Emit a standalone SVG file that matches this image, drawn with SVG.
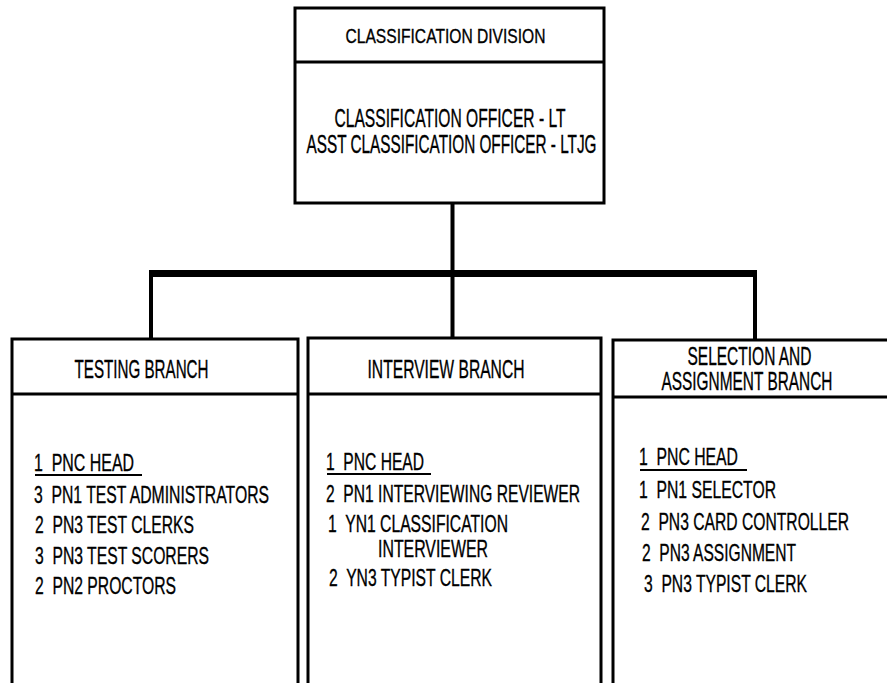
<svg xmlns="http://www.w3.org/2000/svg" width="887" height="683" viewBox="0 0 887 683">
<style>
text{font-family:"Liberation Sans",Arial,sans-serif;fill:#000;stroke:#000;stroke-width:0.35;white-space:pre}
.t{font-size:21px}
.o{font-size:25px}
.h{font-size:25px}
.i{font-size:24px}
.box{fill:none;stroke:#000;stroke-width:3}
.ul{stroke:#000;stroke-width:2}
.conn line{stroke:#000;stroke-width:4}
</style>
<rect width="887" height="683" fill="#fff"/>
<g id="connectors" class="conn">
<line x1="452.5" y1="203" x2="452.5" y2="338"/>
<rect x="149" y="270" width="608" height="7" fill="#000"/>
<line x1="151" y1="273" x2="151" y2="339"/>
<line x1="755" y1="273" x2="755" y2="340"/>
</g>
<g id="division">
<rect class="box" x="295" y="8" width="309" height="195"/>
<line class="box" x1="295" y1="62" x2="604" y2="62"/>
<text class="t" x="445.5" y="43" text-anchor="middle" textLength="200" lengthAdjust="spacingAndGlyphs">CLASSIFICATION DIVISION</text>
<text class="o" x="450" y="127" text-anchor="middle" textLength="231" lengthAdjust="spacingAndGlyphs">CLASSIFICATION OFFICER - LT</text>
<text class="o" x="451.5" y="153" text-anchor="middle" textLength="290" lengthAdjust="spacingAndGlyphs">ASST CLASSIFICATION OFFICER - LTJG</text>
</g>
<g id="testing">
<path class="box" d="M12,690 V339 H298 V690"/>
<line class="box" x1="12" y1="394" x2="298" y2="394"/>
<text class="h" x="141.5" y="378" text-anchor="middle" textLength="134" lengthAdjust="spacingAndGlyphs">TESTING BRANCH</text>
<text class="i" x="34" y="471" textLength="100" lengthAdjust="spacingAndGlyphs">1  PNC HEAD</text>
<line class="ul" x1="35" y1="475" x2="142" y2="475"/>
<text class="i" x="34" y="503" textLength="235" lengthAdjust="spacingAndGlyphs">3  PN1 TEST ADMINISTRATORS</text>
<text class="i" x="35" y="533" textLength="159" lengthAdjust="spacingAndGlyphs">2  PN3 TEST CLERKS</text>
<text class="i" x="35" y="564" textLength="174" lengthAdjust="spacingAndGlyphs">3  PN3 TEST SCORERS</text>
<text class="i" x="35" y="594" textLength="141" lengthAdjust="spacingAndGlyphs">2  PN2 PROCTORS</text>
</g>
<g id="interview">
<path class="box" d="M308,690 V338 H601 V690"/>
<line class="box" x1="308" y1="394" x2="601" y2="394"/>
<text class="h" x="446" y="378" text-anchor="middle" textLength="157" lengthAdjust="spacingAndGlyphs">INTERVIEW BRANCH</text>
<text class="i" x="326" y="470" textLength="98" lengthAdjust="spacingAndGlyphs">1  PNC HEAD</text>
<line class="ul" x1="327" y1="474" x2="431" y2="474"/>
<text class="i" x="326" y="502" textLength="254" lengthAdjust="spacingAndGlyphs">2  PN1 INTERVIEWING REVIEWER</text>
<text class="i" x="328" y="532" textLength="180" lengthAdjust="spacingAndGlyphs">1  YN1 CLASSIFICATION</text>
<text class="i" x="378" y="557" textLength="110" lengthAdjust="spacingAndGlyphs">INTERVIEWER</text>
<text class="i" x="329" y="586" textLength="163" lengthAdjust="spacingAndGlyphs">2  YN3 TYPIST CLERK</text>
</g>
<g id="selection">
<path class="box" d="M613,690 V340 H892"/>
<line class="box" x1="613" y1="397" x2="892" y2="397"/>
<text class="h" x="749.5" y="365" text-anchor="middle" textLength="124" lengthAdjust="spacingAndGlyphs">SELECTION AND</text>
<text class="h" x="747" y="390" text-anchor="middle" textLength="171" lengthAdjust="spacingAndGlyphs">ASSIGNMENT BRANCH</text>
<text class="i" x="639" y="465" textLength="99" lengthAdjust="spacingAndGlyphs">1  PNC HEAD</text>
<line class="ul" x1="640" y1="470" x2="747" y2="470"/>
<text class="i" x="639" y="498" textLength="137" lengthAdjust="spacingAndGlyphs">1  PN1 SELECTOR</text>
<text class="i" x="641" y="530" textLength="208" lengthAdjust="spacingAndGlyphs">2  PN3 CARD CONTROLLER</text>
<text class="i" x="642" y="561" textLength="154" lengthAdjust="spacingAndGlyphs">2  PN3 ASSIGNMENT</text>
<text class="i" x="644" y="592" textLength="163" lengthAdjust="spacingAndGlyphs">3  PN3 TYPIST CLERK</text>
</g>
</svg>
